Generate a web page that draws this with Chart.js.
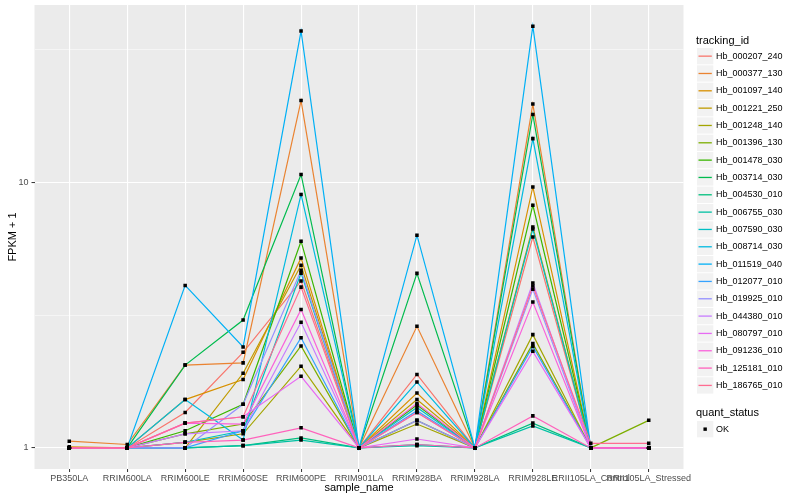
<!DOCTYPE html>
<html>
<head>
<meta charset="utf-8">
<script src="https://cdn.jsdelivr.net/npm/chart.js"></script>
<style>
  html, body { margin: 0; padding: 0; background: #ffffff; }
  canvas { display: block; }
</style>
</head>
<body>
<canvas id="myChart" width="800" height="500"></canvas>
<script>
// sample names on the x axis
const sampleNames = ['PB350LA', 'RRIM600LA', 'RRIM600LE', 'RRIM600SE', 'RRIM600PE', 'RRIM901LA',
  'RRIM928BA', 'RRIM928LA', 'RRIM928LE', 'RRII105LA_Control', 'RRII105LA_Stressed'];

// FPKM + 1 per gene, one value per sample
const hb_000207_240 = [1.00, 1.00, 1.36, 2.29, 4.25, 1, 1.89, 1, 6.22, 1.00, 1.00];
const hb_000377_130 = [1.06, 1.03, 2.05, 2.09, 20.3, 1, 2.87, 1, 19.7, 1.00, 1.00];
const hb_001097_140 = [1.01, 1.00, 1.52, 1.81, 5.19, 1, 1.61, 1, 9.60, 1.00, 1.00];
const hb_001221_250 = [1.00, 1.00, 1.00, 1.91, 4.87, 1, 1.52, 1, 6.79, 1.00, 1.00];
const hb_001248_140 = [1.00, 1.00, 1.05, 1.13, 2.03, 1, 1.23, 1, 2.67, 1.00, 1.00];
const hb_001396_130 = [1.00, 1.00, 1.13, 1.23, 2.42, 1, 1.27, 1, 2.47, 1.00, 1.27];
const hb_001478_030 = [1.00, 1.00, 1.16, 1.46, 6.00, 1, 1.45, 1, 8.20, 1.00, 1.00];
const hb_003714_030 = [1.00, 1.00, 2.05, 3.03, 10.7, 1, 4.54, 1, 18.0, 1.00, 1.00];
const hb_004530_010 = [1.00, 1.00, 1.00, 1.02, 1.09, 1, 1.03, 1, 1.24, 1.00, 1.00];
const hb_006755_030 = [1.00, 1.00, 1.00, 1.02, 1.07, 1, 1.02, 1, 1.21, 1.00, 1.00];
const hb_007590_030 = [1.00, 1.00, 1.05, 1.16, 4.55, 1, 1.42, 1, 6.67, 1.00, 1.00];
const hb_008714_030 = [1.00, 1.00, 1.52, 1.07, 9.00, 1, 1.77, 1, 14.6, 1.00, 1.00];
const hb_011519_040 = [1.00, 1.00, 4.09, 2.40, 37.1, 1, 6.32, 1, 38.7, 1.00, 1.00];
const hb_012077_010 = [1.00, 1.00, 1.00, 1.16, 2.60, 1, 1.38, 1, 2.41, 1.00, 1.00];
const hb_019925_010 = [1.00, 1.00, 1.00, 1.46, 4.66, 1, 1.27, 1, 3.96, 1.00, 1.00];
const hb_044380_010 = [1.00, 1.00, 1.13, 1.16, 2.97, 1, 1.36, 1, 4.18, 1.00, 1.00];
const hb_080797_010 = [1.00, 1.00, 1.24, 1.31, 1.86, 1, 1.08, 1, 2.31, 1.00, 1.00];
const hb_091236_010 = [1.00, 1.00, 1.24, 1.23, 3.32, 1, 1.47, 1, 3.54, 1.00, 1.00];
const hb_125181_010 = [1.00, 1.00, 1.05, 1.07, 1.19, 1, 1.03, 1, 1.32, 1.00, 1.00];
const hb_186765_010 = [1.00, 1.00, 1.24, 1.31, 4.03, 1, 1.36, 1, 4.07, 1.04, 1.04];

const trackingIds = ['Hb_000207_240', 'Hb_000377_130', 'Hb_001097_140', 'Hb_001221_250', 'Hb_001248_140',
  'Hb_001396_130', 'Hb_001478_030', 'Hb_003714_030', 'Hb_004530_010', 'Hb_006755_030',
  'Hb_007590_030', 'Hb_008714_030', 'Hb_011519_040', 'Hb_012077_010', 'Hb_019925_010',
  'Hb_044380_010', 'Hb_080797_010', 'Hb_091236_010', 'Hb_125181_010', 'Hb_186765_010'];
const seriesValues = [hb_000207_240, hb_000377_130, hb_001097_140, hb_001221_250, hb_001248_140,
  hb_001396_130, hb_001478_030, hb_003714_030, hb_004530_010, hb_006755_030,
  hb_007590_030, hb_008714_030, hb_011519_040, hb_012077_010, hb_019925_010,
  hb_044380_010, hb_080797_010, hb_091236_010, hb_125181_010, hb_186765_010];

// ggplot default hue palette for 20 groups
const palette = ['#F8766D', '#EA8331', '#D89000', '#C09B00', '#A3A500', '#7CAE00', '#39B600', '#00BB4E',
  '#00BF7D', '#00C1A3', '#00BFC4', '#00BAE0', '#00B0F6', '#35A2FF', '#9590FF', '#C77CFF',
  '#E76BF3', '#FA62DB', '#FF62BC', '#FF6C91'];

const yTicks = [1, Math.sqrt(10), 10, Math.sqrt(1000)];
const FONT = "'Liberation Sans', Arial, sans-serif";

const lineSets = trackingIds.map((id, i) => ({
  label: id,
  data: seriesValues[i].map((v, j) => ({ x: j, y: v })),
  borderColor: palette[i],
  backgroundColor: palette[i],
  borderWidth: 1.2,
  pointRadius: 0,
  tension: 0,
  order: 100 - i
}));

// quant_status = OK for every point
const okSet = {
  label: 'OK',
  type: 'scatter',
  data: seriesValues.flatMap(vals => vals.map((v, j) => ({ x: j, y: v }))),
  pointStyle: 'rect',
  pointRadius: 2.5,
  borderWidth: 0,
  backgroundColor: '#000000',
  borderColor: '#000000',
  order: -1
};

// grey panel behind the grid
const panelBg = {
  id: 'panelBg',
  beforeDraw(chart) {
    const a = chart.chartArea, ctx = chart.ctx;
    ctx.save();
    ctx.fillStyle = '#EBEBEB';
    ctx.fillRect(a.left, a.top, a.right - a.left, a.bottom - a.top);
    ctx.restore();
  }
};

// ggplot style legend on the right
const ggLegend = {
  id: 'ggLegend',
  afterDraw(chart) {
    const ctx = chart.ctx;
    const x0 = 697, step = 17.33, box = 16.3;
    ctx.save();
    ctx.textBaseline = 'middle';
    ctx.textAlign = 'left';
    ctx.fillStyle = '#000000';
    ctx.font = '11px ' + FONT;
    ctx.fillText('tracking_id', 696, 40.5);
    ctx.font = '9px ' + FONT;
    chart.data.datasets.forEach((ds, i) => {
      if (ds.type === 'scatter') return;
      const top = 48 + step * i;
      const cy = top + box / 2;
      ctx.fillStyle = '#F2F2F2';
      ctx.fillRect(x0, top, box, box);
      ctx.strokeStyle = ds.borderColor;
      ctx.lineWidth = 1.3;
      ctx.beginPath();
      ctx.moveTo(x0 + 1.5, cy);
      ctx.lineTo(x0 + box - 1.5, cy);
      ctx.stroke();
      ctx.fillStyle = '#000000';
      ctx.fillText(ds.label, 716, cy);
    });
    ctx.font = '11px ' + FONT;
    ctx.fillText('quant_status', 696, 412.5);
    ctx.fillStyle = '#F2F2F2';
    ctx.fillRect(x0, 421, box, box);
    ctx.fillStyle = '#000000';
    ctx.fillRect(x0 + box / 2 - 1.7, 421 + box / 2 - 1.7, 3.4, 3.4);
    ctx.font = '9px ' + FONT;
    ctx.fillText('OK', 716, 421 + box / 2);
    ctx.restore();
  }
};

const isMajor = v => Math.abs(v - 1) < 1e-9 || Math.abs(v - 10) < 1e-9;

const ctx = document.getElementById('myChart').getContext('2d');
const myChart = new Chart(ctx, {
  type: 'line',
  data: { datasets: [...lineSets, okSet] },
  options: {
    responsive: false,
    animation: false,
    devicePixelRatio: 1,
    layout: { padding: { left: 0, right: 116.5, top: 5, bottom: 0 } },
    plugins: {
      legend: { display: false },
      tooltip: { enabled: false }
    },
    scales: {
      x: {
        type: 'linear',
        min: -0.6,
        max: 10.6,
        afterBuildTicks: axis => { axis.ticks = sampleNames.map((n, i) => ({ value: i })); },
        afterFit: axis => { axis.height = 31; axis.paddingLeft = 0; axis.paddingRight = 0; },
        border: { display: false },
        grid: { color: '#FFFFFF', lineWidth: 1.1, tickColor: '#333333', tickLength: 3, tickWidth: 1 },
        ticks: {
          autoSkip: false, maxRotation: 0, minRotation: 0, padding: 1,
          color: '#4D4D4D', font: { family: FONT, size: 9 },
          callback: v => sampleNames[v]
        },
        title: { display: true, text: 'sample_name', color: '#000000', font: { family: FONT, size: 11 }, padding: { top: 0, bottom: 5 } }
      },
      y: {
        type: 'logarithmic',
        min: Math.pow(10, -0.0794),
        max: Math.pow(10, 1.6674),
        afterBuildTicks: axis => { axis.ticks = yTicks.map(v => ({ value: v })); },
        afterFit: axis => { axis.width = 34.5; axis.paddingTop = 0; axis.paddingBottom = 0; },
        border: { display: false },
        grid: {
          color: '#FFFFFF',
          lineWidth: c => (c.tick && isMajor(c.tick.value)) ? 1.1 : 0.5,
          tickColor: c => (c.tick && isMajor(c.tick.value)) ? '#333333' : 'rgba(0,0,0,0)',
          tickLength: 3, tickWidth: 1
        },
        ticks: {
          autoSkip: false, padding: 3,
          color: '#4D4D4D', font: { family: FONT, size: 9 },
          callback: v => isMajor(v) ? String(Math.round(v)) : ''
        },
        title: { display: true, text: 'FPKM + 1', color: '#000000', font: { family: FONT, size: 11 }, padding: { top: 6, bottom: 0 } }
      }
    }
  },
  plugins: [panelBg, ggLegend]
});
</script>
</body>
</html>
